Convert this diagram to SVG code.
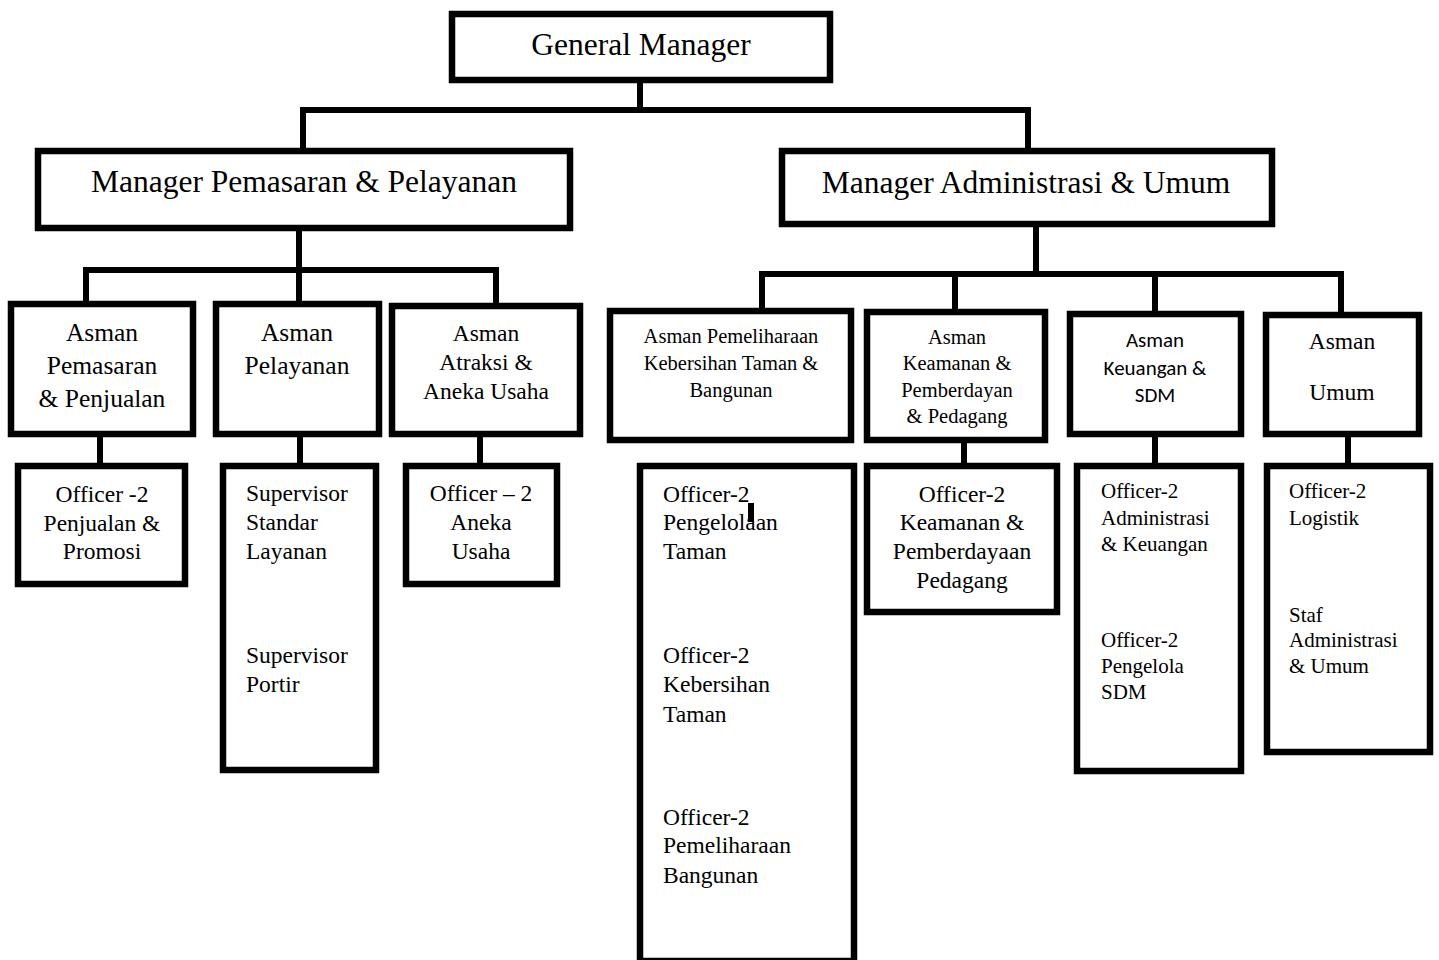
<svg xmlns="http://www.w3.org/2000/svg" width="1439" height="960" viewBox="0 0 1439 960">
<style>
.bx{fill:#fff;stroke:#000;stroke-width:6.5}
.cn{fill:none;stroke:#000;stroke-width:6}
text{font-family:"Liberation Serif","Times New Roman",serif;fill:#000}
.c{text-anchor:middle}
.t1{font-size:31.5px}
.t2{font-size:25.5px}
.t3{font-size:23.5px}
.t4{font-size:20.5px}
.t5{font-size:21px}
.sans{font-family:"Carlito","Liberation Sans",sans-serif;font-size:21px}
</style>
<rect width="1439" height="960" fill="#fff"/>
<g id="connectors">
<path class="cn" d="M640 83V110M303 149V110H1028V149"/>
<path class="cn" d="M299 231V270M86 302V270H496V304M299 270V302"/>
<path class="cn" d="M1036 227V274M762 309V274H1341V313M955 274V310M1155 274V312"/>
<path class="cn" d="M100 437V464M300 437V464M480 437V464"/>
<path class="cn" d="M964 443V464M1155 437V464M1348 437V464"/>
</g>
<g id="gm">
<rect class="bx" x="452" y="14" width="378" height="66"/>
<text class="c t1" x="641" y="55">General Manager</text>
</g>
<g id="mpp">
<rect class="bx" x="38" y="151" width="532" height="77"/>
<text class="c t1" x="304" y="192">Manager Pemasaran &amp; Pelayanan</text>
</g>
<g id="mau">
<rect class="bx" x="782" y="151" width="490" height="73"/>
<text class="c t1" x="1026" y="193">Manager Administrasi &amp; Umum</text>
</g>
<g id="a1">
<rect class="bx" x="11" y="304" width="182" height="130"/>
<text class="c t2" x="102" y="341">Asman</text>
<text class="c t2" x="102" y="374">Pemasaran</text>
<text class="c t2" x="102" y="407">&amp; Penjualan</text>
</g>
<g id="a2">
<rect class="bx" x="216" y="304" width="163" height="130"/>
<text class="c t2" x="297" y="341">Asman</text>
<text class="c t2" x="297" y="374">Pelayanan</text>
</g>
<g id="a3">
<rect class="bx" x="392" y="306" width="188" height="128"/>
<text class="c t3" x="486" y="341">Asman</text>
<text class="c t3" x="486" y="370">Atraksi &amp;</text>
<text class="c t3" x="486" y="399">Aneka Usaha</text>
</g>
<g id="b1">
<rect class="bx" x="610" y="311" width="241" height="129"/>
<text class="c t4" x="731" y="343">Asman Pemeliharaan</text>
<text class="c t4" x="731" y="370">Kebersihan Taman &amp;</text>
<text class="c t4" x="731" y="397">Bangunan</text>
</g>
<g id="b2">
<rect class="bx" x="867" y="312" width="178" height="128"/>
<text class="c t4" x="957" y="344">Asman</text>
<text class="c t4" x="957" y="370">Keamanan &amp;</text>
<text class="c t4" x="957" y="397">Pemberdayan</text>
<text class="c t4" x="957" y="423">&amp; Pedagang</text>
</g>
<g id="b3">
<rect class="bx" x="1070" y="314" width="171" height="120"/>
<text class="c sans" x="1155" y="347">Asman</text>
<text class="c sans" x="1155" y="375">Keuangan &amp;</text>
<text class="c sans" x="1155" y="402">SDM</text>
</g>
<g id="b4">
<rect class="bx" x="1266" y="315" width="153" height="119"/>
<text class="c t3" x="1342" y="349">Asman</text>
<text class="c t3" x="1342" y="400">Umum</text>
</g>
<g id="o1">
<rect class="bx" x="18" y="466" width="167" height="118"/>
<text class="c t3" x="102" y="502">Officer -2</text>
<text class="c t3" x="102" y="531">Penjualan &amp;</text>
<text class="c t3" x="102" y="559">Promosi</text>
</g>
<g id="o2">
<rect class="bx" x="223" y="466" width="153" height="304"/>
<text class="t3" x="246" y="501">Supervisor</text>
<text class="t3" x="246" y="530">Standar</text>
<text class="t3" x="246" y="559">Layanan</text>
<text class="t3" x="246" y="663">Supervisor</text>
<text class="t3" x="246" y="692">Portir</text>
</g>
<g id="o3">
<rect class="bx" x="406" y="466" width="151" height="118"/>
<text class="c t3" x="481" y="501">Officer – 2</text>
<text class="c t3" x="481" y="530">Aneka</text>
<text class="c t3" x="481" y="559">Usaha</text>
</g>
<g id="c1">
<rect class="bx" x="640" y="466" width="214" height="495"/>
<text class="t3" x="663" y="502">Officer-2</text>
<text class="t3" x="663" y="530">Pengelolaan</text>
<text class="t3" x="663" y="559">Taman</text>
<text class="t3" x="663" y="663">Officer-2</text>
<text class="t3" x="663" y="692">Kebersihan</text>
<text class="t3" x="663" y="722">Taman</text>
<text class="t3" x="663" y="825">Officer-2</text>
<text class="t3" x="663" y="853">Pemeliharaan</text>
<text class="t3" x="663" y="883">Bangunan</text>
<rect x="748" y="503" width="6" height="19" fill="#000"/>
</g>
<g id="c2">
<rect class="bx" x="867" y="466" width="190" height="146"/>
<text class="c t3" x="962" y="502">Officer-2</text>
<text class="c t3" x="962" y="530">Keamanan &amp;</text>
<text class="c t3" x="962" y="559">Pemberdayaan</text>
<text class="c t3" x="962" y="588">Pedagang</text>
</g>
<g id="c3">
<rect class="bx" x="1077" y="466" width="164" height="305"/>
<text class="t5" x="1101" y="498">Officer-2</text>
<text class="t5" x="1101" y="525">Administrasi</text>
<text class="t5" x="1101" y="551">&amp; Keuangan</text>
<text class="t5" x="1101" y="647">Officer-2</text>
<text class="t5" x="1101" y="673">Pengelola</text>
<text class="t5" x="1101" y="699">SDM</text>
</g>
<g id="c4">
<rect class="bx" x="1267" y="466" width="163" height="286"/>
<text class="t5" x="1289" y="498">Officer-2</text>
<text class="t5" x="1289" y="525">Logistik</text>
<text class="t5" x="1289" y="622">Staf</text>
<text class="t5" x="1289" y="647">Administrasi</text>
<text class="t5" x="1289" y="673">&amp; Umum</text>
</g>
</svg>
